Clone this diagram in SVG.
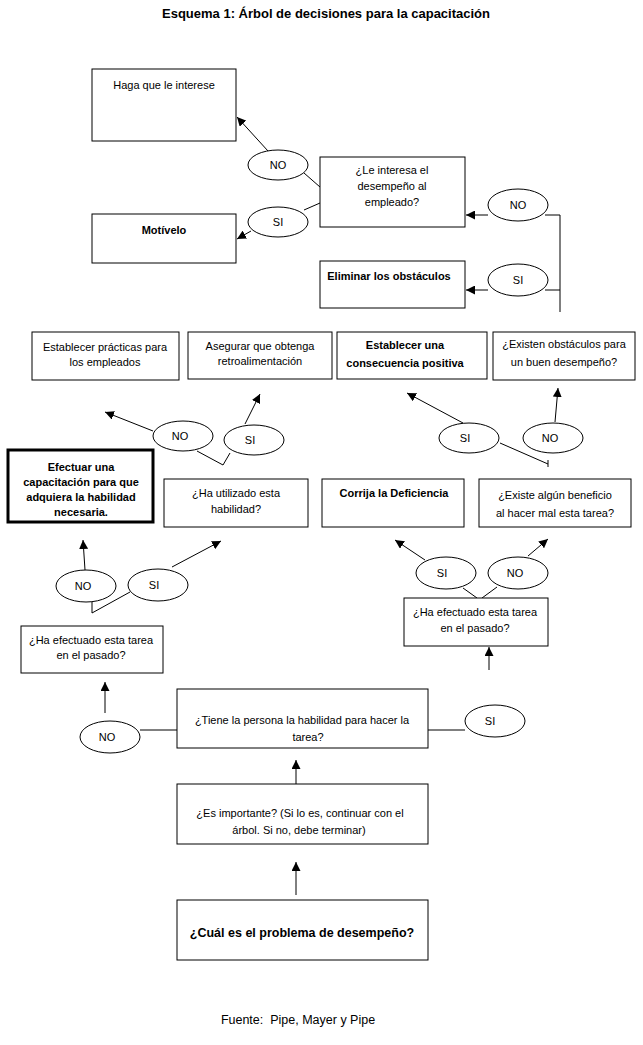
<svg xmlns="http://www.w3.org/2000/svg" width="643" height="1045" viewBox="0 0 643 1045">
<defs>
<style>
.box{fill:#fff;stroke:#000;stroke-width:1}
.ell{fill:#fff;stroke:#000;stroke-width:1}
.t{font-family:"Liberation Sans",Arial,sans-serif;font-size:11px;fill:#000;text-anchor:middle}
.b{font-weight:bold}
.ln{fill:none;stroke:#000;stroke-width:1}
.ar{fill:none;stroke:#000;stroke-width:1;marker-end:url(#ah)}
</style>
<marker id="ah" viewBox="0 0 10 10" refX="10" refY="5" markerWidth="9" markerHeight="9" markerUnits="userSpaceOnUse" orient="auto">
<path d="M0,0 L10,5 L0,10 z" fill="#000"/>
</marker>
</defs>
<rect width="643" height="1045" fill="#fff"/>
<text class="t b" x="326" y="18" style="font-size:13px">Esquema 1: Árbol de decisiones para la capacitación</text>

<g id="connectors">
<line class="ar" x1="268" y1="151" x2="237" y2="117"/>
<line class="ln" x1="304" y1="173" x2="320" y2="187"/>
<line class="ln" x1="320" y1="203" x2="304" y2="210"/>
<line class="ar" x1="251" y1="231" x2="237" y2="239"/>
<line class="ar" x1="488" y1="215" x2="466" y2="215"/>
<polyline class="ln" points="545,215 560,215 560,312"/>
<line class="ln" x1="545" y1="290" x2="560" y2="290"/>
<line class="ar" x1="488" y1="290" x2="466" y2="290"/>
<line class="ar" x1="555" y1="422" x2="558" y2="388"/>
<line class="ar" x1="463" y1="423" x2="407" y2="393"/>
<polyline class="ln" points="500,443 548,464"/>
<line class="ln" x1="548" y1="460" x2="548" y2="467"/>
<line class="ar" x1="153" y1="431" x2="105" y2="412"/>
<line class="ar" x1="245" y1="424" x2="260" y2="394"/>
<polyline class="ln" points="197,451 223,465 230,453"/>
<line class="ar" x1="85" y1="570" x2="83" y2="540"/>
<line class="ar" x1="172" y1="567" x2="221" y2="541"/>
<polyline class="ln" points="92,601 92,613 130,592"/>
<line class="ar" x1="425" y1="560" x2="395" y2="540"/>
<line class="ar" x1="528" y1="556" x2="548" y2="539"/>
<line class="ln" x1="463" y1="588" x2="477" y2="598"/>
<line class="ln" x1="497" y1="587" x2="482" y2="598"/>
<line class="ar" x1="489" y1="670" x2="489" y2="647"/>
<line class="ar" x1="105" y1="713" x2="105" y2="682"/>
<line class="ln" x1="140" y1="730" x2="177" y2="730"/>
<line class="ln" x1="428" y1="730" x2="465" y2="730"/>
<line class="ar" x1="296" y1="793" x2="296" y2="760"/>
<line class="ar" x1="296" y1="895" x2="296" y2="862"/>
</g>

<g id="haga"><rect class="box" x="92" y="69" width="144" height="72"/><text class="t" x="164" y="89">Haga que le interese</text></g>
<g id="motivelo"><rect class="box" x="92" y="214" width="144" height="49"/><text class="t b" x="164" y="234">Motívelo</text></g>
<g id="interesa"><rect class="box" x="320" y="157" width="145" height="70"/><text class="t" x="392" y="174">¿Le interesa el</text><text class="t" x="392" y="190">desempeño al</text><text class="t" x="392" y="206">empleado?</text></g>
<g id="eliminar"><rect class="box" x="320" y="261" width="145" height="47"/><text class="t b" x="389" y="280">Eliminar los obstáculos</text></g>
<g id="practicas"><rect class="box" x="32" y="332" width="147" height="48"/><text class="t" x="105" y="351">Establecer prácticas para</text><text class="t" x="105" y="366">los empleados</text></g>
<g id="asegurar"><rect class="box" x="188" y="332" width="144" height="47"/><text class="t" x="260" y="350">Asegurar que obtenga</text><text class="t" x="260" y="365">retroalimentación</text></g>
<g id="consecuencia"><rect class="box" x="337" y="332" width="150" height="47"/><text class="t b" x="405" y="349">Establecer una</text><text class="t b" x="405" y="367">consecuencia positiva</text></g>
<g id="existen"><rect class="box" x="493" y="332" width="142" height="48"/><text class="t" x="564" y="348">¿Existen obstáculos para</text><text class="t" x="564" y="366">un buen desempeño?</text></g>
<g id="efectuar"><rect class="box" x="8" y="450" width="145" height="72" style="stroke-width:3"/><text class="t b" x="81" y="471">Efectuar una</text><text class="t b" x="81" y="486">capacitación para que</text><text class="t b" x="81" y="501">adquiera la habilidad</text><text class="t b" x="81" y="516">necesaria.</text></g>
<g id="utilizado"><rect class="box" x="164" y="479" width="144" height="48"/><text class="t" x="236" y="497">¿Ha utilizado esta</text><text class="t" x="236" y="513">habilidad?</text></g>
<g id="corrija"><rect class="box" x="322" y="479" width="142" height="48"/><text class="t b" x="394" y="497">Corrija la Deficiencia</text></g>
<g id="existe"><rect class="box" x="479" y="479" width="152" height="48"/><text class="t" x="555" y="499">¿Existe algún beneficio</text><text class="t" x="555" y="517">al hacer mal esta tarea?</text></g>
<g id="pasado-izq"><rect class="box" x="21" y="626" width="142" height="47"/><text class="t" x="91" y="644">¿Ha efectuado esta tarea</text><text class="t" x="91" y="659">en el pasado?</text></g>
<g id="pasado-der"><rect class="box" x="404" y="598" width="144" height="48"/><text class="t" x="475" y="616">¿Ha efectuado esta tarea</text><text class="t" x="475" y="632">en el pasado?</text></g>
<g id="tiene"><rect class="box" x="177" y="689" width="251" height="59"/><text class="t" x="302" y="724">¿Tiene la persona la habilidad para hacer la</text><text class="t" x="308" y="741">tarea?</text></g>
<g id="importante"><rect class="box" x="177" y="784" width="251" height="60"/><text class="t" x="300" y="817">¿Es importante? (Si lo es, continuar con el</text><text class="t" x="299" y="834">árbol. Si no, debe terminar)</text></g>
<g id="problema"><rect class="box" x="177" y="900" width="251" height="60"/><text class="t b" x="302" y="937" style="font-size:12.5px">¿Cuál es el problema de desempeño?</text></g>

<g id="e-no-1"><ellipse class="ell" cx="278" cy="165" rx="30" ry="15"/><text class="t" x="278" y="169">NO</text></g>
<g id="e-si-1"><ellipse class="ell" cx="278" cy="222" rx="30" ry="15"/><text class="t" x="278" y="226">SI</text></g>
<g id="e-no-2"><ellipse class="ell" cx="518" cy="205" rx="30" ry="16"/><text class="t" x="518" y="209">NO</text></g>
<g id="e-si-2"><ellipse class="ell" cx="518" cy="280" rx="30" ry="16"/><text class="t" x="518" y="284">SI</text></g>
<g id="e-no-3"><ellipse class="ell" cx="183" cy="436" rx="30" ry="15"/><text class="t" x="180" y="440">NO</text></g>
<g id="e-si-3"><ellipse class="ell" cx="254" cy="440" rx="30" ry="15"/><text class="t" x="250" y="444">SI</text></g>
<g id="e-si-4"><ellipse class="ell" cx="469" cy="438" rx="30" ry="15"/><text class="t" x="465" y="442">SI</text></g>
<g id="e-no-4"><ellipse class="ell" cx="553" cy="438" rx="30" ry="15"/><text class="t" x="550" y="442">NO</text></g>
<g id="e-no-5"><ellipse class="ell" cx="86" cy="586" rx="30" ry="16"/><text class="t" x="83" y="590">NO</text></g>
<g id="e-si-5"><ellipse class="ell" cx="158" cy="585" rx="30" ry="16"/><text class="t" x="154" y="589">SI</text></g>
<g id="e-si-6"><ellipse class="ell" cx="446" cy="573" rx="30" ry="16"/><text class="t" x="442" y="577">SI</text></g>
<g id="e-no-6"><ellipse class="ell" cx="518" cy="573" rx="30" ry="16"/><text class="t" x="515" y="577">NO</text></g>
<g id="e-no-7"><ellipse class="ell" cx="110" cy="737" rx="30" ry="16"/><text class="t" x="107" y="741">NO</text></g>
<g id="e-si-7"><ellipse class="ell" cx="495" cy="721" rx="30" ry="16"/><text class="t" x="490" y="725">SI</text></g>

<text class="t" x="298" y="1024" xml:space="preserve" style="font-size:12.5px">Fuente:  Pipe, Mayer y Pipe</text>
</svg>
